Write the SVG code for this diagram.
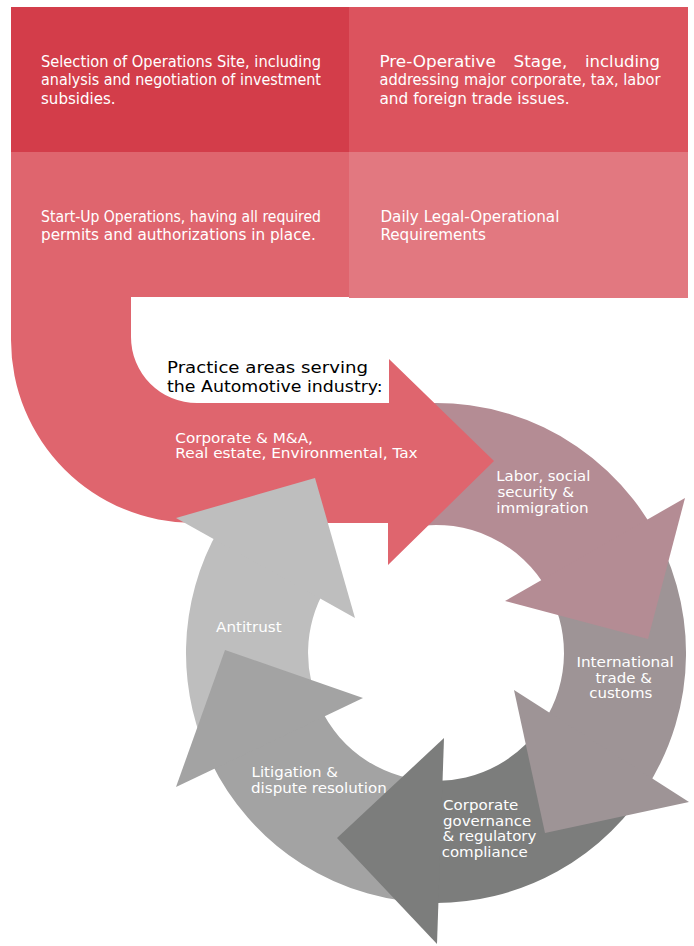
<svg xmlns="http://www.w3.org/2000/svg" width="694" height="946" viewBox="0 0 694 946">
<style>
.bt{font-family:"DejaVu Sans Condensed","DejaVu Sans",sans-serif;font-size:15.5px;fill:#fff}
.rt{font-family:"DejaVu Sans",Verdana,sans-serif;font-size:13.4px;fill:#fff}
.pt{font-family:"DejaVu Sans",Verdana,sans-serif;font-size:16.3px;fill:#000}
</style>
<rect width="694" height="946" fill="#fff"/>
<g id="box-site">
<rect x="11" y="7" width="338" height="145" fill="#D33D4A"/>
<text class="bt" x="41" y="66.5" textLength="280" lengthAdjust="spacingAndGlyphs">Selection of Operations Site, including</text>
<text class="bt" x="41" y="85" textLength="280" lengthAdjust="spacingAndGlyphs">analysis and negotiation of investment</text>
<text class="bt" x="41" y="103.5" textLength="74.6" lengthAdjust="spacingAndGlyphs">subsidies.</text>
</g>
<g id="box-preoperative">
<rect x="349" y="7" width="339" height="145" fill="#DC535E"/>
<text class="bt" x="379.5" y="66.5" textLength="116.3" lengthAdjust="spacingAndGlyphs">Pre-Operative</text>
<text class="bt" x="513.5" y="66.5" textLength="53.7" lengthAdjust="spacingAndGlyphs">Stage,</text>
<text class="bt" x="585" y="66.5" textLength="75" lengthAdjust="spacingAndGlyphs">including</text>
<text class="bt" x="379.5" y="85" textLength="281" lengthAdjust="spacingAndGlyphs">addressing major corporate, tax, labor</text>
<text class="bt" x="379.5" y="103.5" textLength="190" lengthAdjust="spacingAndGlyphs">and foreign trade issues.</text>
</g>
<g id="box-startup">
<rect x="11" y="152" width="338" height="145" fill="#DF656E"/>
<text class="bt" x="41" y="221.7" textLength="280" lengthAdjust="spacingAndGlyphs">Start-Up Operations, having all required</text>
<text class="bt" x="41" y="240" textLength="274.8" lengthAdjust="spacingAndGlyphs">permits and authorizations in place.</text>
</g>
<g id="box-daily">
<rect x="349" y="152" width="339" height="146" fill="#E27880"/>
<text class="bt" x="380.4" y="221.7" textLength="179" lengthAdjust="spacingAndGlyphs">Daily Legal-Operational</text>
<text class="bt" x="380.4" y="240" textLength="105.6" lengthAdjust="spacingAndGlyphs">Requirements</text>
</g>
<g id="seg-antitrust">
<path d="M214.2 768.4 A250 250 0 0 1 219.5 528 L325.2 589 A128 128 0 0 0 322.5 712.1 Z" fill="#BEBEBE"/>
<text class="rt" x="216.1" y="631.7" textLength="65.5" lengthAdjust="spacingAndGlyphs">Antitrust</text>
</g>
<g id="seg-litigation">
<path d="M439.5 903 A250 250 0 0 1 208.5 756.7 L319.5 706.1 A128 128 0 0 0 437.8 781 Z" fill="#A3A3A3"/>
<text class="rt" x="251.6" y="776.7" textLength="86.4" lengthAdjust="spacingAndGlyphs">Litigation &amp;</text>
<text class="rt" x="251" y="792.7" textLength="135.7" lengthAdjust="spacingAndGlyphs">dispute resolution</text>
</g>
<g id="seg-governance">
<path d="M652.5 778 A250 250 0 0 1 427.3 902.8 L431.5 780.9 A128 128 0 0 0 546.9 717 Z" fill="#7C7D7C"/>
<text class="rt" x="443.1" y="810" textLength="75.2" lengthAdjust="spacingAndGlyphs">Corporate</text>
<text class="rt" x="443.1" y="825.5" textLength="88" lengthAdjust="spacingAndGlyphs">governance</text>
<text class="rt" x="442.4" y="841" textLength="94" lengthAdjust="spacingAndGlyphs">&amp; regulatory</text>
<text class="rt" x="441.7" y="856.5" textLength="86" lengthAdjust="spacingAndGlyphs">compliance</text>
</g>
<g id="seg-trade">
<path d="M648 520.5 A250 250 0 0 1 645.7 789.2 L543.3 722.7 A128 128 0 0 0 544.6 585.2 Z" fill="#9E9496"/>
<text class="rt" x="576.4" y="666.7" textLength="97.4" lengthAdjust="spacingAndGlyphs">International</text>
<text class="rt" x="595.5" y="682.7" textLength="56.4" lengthAdjust="spacingAndGlyphs">trade &amp;</text>
<text class="rt" x="589.3" y="698.3" textLength="63" lengthAdjust="spacingAndGlyphs">customs</text>
</g>
<g id="seg-labor">
<path d="M392.6 406.8 A250 250 0 0 1 654.7 531.8 L548 590.9 A128 128 0 0 0 413.8 526.9 Z" fill="#B48C94"/>
<text class="rt" x="496.3" y="480.7" textLength="94" lengthAdjust="spacingAndGlyphs">Labor, social</text>
<text class="rt" x="497.4" y="496.7" textLength="76.6" lengthAdjust="spacingAndGlyphs">security &amp;</text>
<text class="rt" x="496.3" y="512.7" textLength="92.3" lengthAdjust="spacingAndGlyphs">immigration</text>
</g>
<g id="practice-core">
<path d="M11 296 H131 V337 A66 66 0 0 0 197 403 H389 V359 L494 461 L388 565 V523 H194 A183 183 0 0 1 11 340 Z" fill="#DF656E"/>
<text class="pt" x="167" y="373" textLength="201" lengthAdjust="spacingAndGlyphs">Practice areas serving</text>
<text class="pt" x="167" y="392" textLength="215.7" lengthAdjust="spacingAndGlyphs">the Automotive industry:</text>
<text class="rt" x="175.3" y="442.7" textLength="137.6" lengthAdjust="spacingAndGlyphs">Corporate &amp; M&amp;A,</text>
<text class="rt" x="175.3" y="458.3" textLength="242.4" lengthAdjust="spacingAndGlyphs">Real estate, Environmental, Tax</text>
</g>
<g id="connectors">
<polygon id="head-labor" points="505,601 685,498 648,639" fill="#B48C94"/>
<polygon id="head-trade" points="514,690 689,802 545,833" fill="#9E9496"/>
<polygon id="head-governance" points="444,738 337,838 437,944" fill="#7C7D7C"/>
<polygon id="head-litigation" points="225,650 363,698 176,787" fill="#A3A3A3"/>
<polygon id="head-antitrust" points="176,518 315,478 355,618" fill="#BEBEBE"/>
</g>
</svg>
